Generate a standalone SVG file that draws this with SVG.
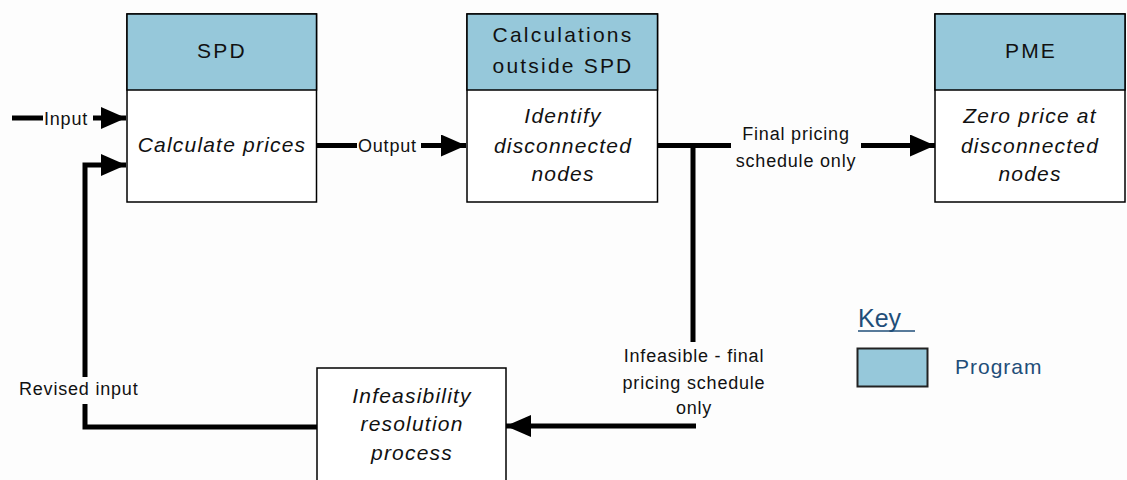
<svg xmlns="http://www.w3.org/2000/svg" width="1127" height="480" viewBox="0 0 1127 480">
<defs>
<style>
.box{fill:#ffffff;stroke:#000;stroke-width:1.5}
.hdr{fill:#96C8DA;stroke:#000;stroke-width:1.5}
.ht{font-family:"Liberation Sans",Arial,sans-serif;font-size:21px;letter-spacing:2.2px;fill:#111;text-anchor:middle}
.bt{font-family:"Liberation Sans",Arial,sans-serif;font-size:21px;font-style:italic;letter-spacing:1.2px;fill:#111;text-anchor:middle}
.lb{font-family:"Liberation Sans",Arial,sans-serif;font-size:18px;letter-spacing:0.8px;fill:#111}
.lbm{font-family:"Liberation Sans",Arial,sans-serif;font-size:18px;letter-spacing:0.8px;fill:#111;text-anchor:middle}
.cn{fill:none;stroke:#000;stroke-width:5;stroke-linejoin:miter}
.key{font-family:"Liberation Sans",Arial,sans-serif;fill:#1F4E79}
</style>
<marker id="ah" markerUnits="userSpaceOnUse" markerWidth="25" markerHeight="22" refX="25" refY="11" orient="auto">
<path d="M0,0 L25,11 L0,22 Z" fill="#000"/>
</marker>
</defs>
<rect width="1127" height="480" fill="#FDFDFD"/>

<g id="connectors">
<line class="cn" x1="12" y1="118" x2="43" y2="118"/>
<line class="cn" x1="93" y1="118" x2="126" y2="118" marker-end="url(#ah)"/>
<polyline class="cn" points="317,427 85,427 85,404"/>
<polyline class="cn" points="85,377 85,165 126,165" marker-end="url(#ah)"/>
<line class="cn" x1="316" y1="145.5" x2="357" y2="145.5"/>
<line class="cn" x1="421" y1="145.5" x2="466" y2="145.5" marker-end="url(#ah)"/>
<line class="cn" x1="658" y1="145.5" x2="731" y2="145.5"/>
<line class="cn" x1="861" y1="145.5" x2="935" y2="145.5" marker-end="url(#ah)"/>
<line class="cn" x1="693" y1="145.5" x2="693" y2="342"/>
<line class="cn" x1="696" y1="426" x2="506" y2="426" marker-end="url(#ah)"/>
<text class="lb" x="44" y="124.5">Input</text>
<text class="lb" x="358" y="151.5">Output</text>
<text class="lbm" x="796" y="139.5">Final pricing</text>
<text class="lbm" x="796" y="166.5">schedule only</text>
<text class="lb" x="19" y="394.5">Revised input</text>
<text class="lbm" x="694" y="361.5">Infeasible - final</text>
<text class="lbm" x="694" y="388.5">pricing schedule</text>
<text class="lbm" x="694" y="413.5">only</text>
</g>

<g id="spd">
<rect class="box" x="127" y="14" width="189.5" height="188"/>
<rect class="hdr" x="127" y="14" width="189.5" height="76"/>
<text class="ht" x="222" y="57.5">SPD</text>
<text class="bt" x="222" y="152">Calculate prices</text>
</g>

<g id="calc">
<rect class="box" x="467" y="14" width="190.5" height="188"/>
<rect class="hdr" x="467" y="14" width="190.5" height="76"/>
<text class="ht" x="563" y="41.5">Calculations</text>
<text class="ht" x="563" y="72.5">outside SPD</text>
<text class="bt" x="563" y="122.5">Identify</text>
<text class="bt" x="563" y="153">disconnected</text>
<text class="bt" x="563" y="180.5">nodes</text>
</g>

<g id="pme">
<rect class="box" x="935" y="14" width="190" height="188"/>
<rect class="hdr" x="935" y="14" width="190" height="76"/>
<text class="ht" x="1031" y="57.5">PME</text>
<text class="bt" x="1030" y="122.5">Zero price at</text>
<text class="bt" x="1030" y="153">disconnected</text>
<text class="bt" x="1030" y="180.5">nodes</text>
</g>

<g id="infeasibility">
<rect class="box" x="317" y="368" width="189" height="130"/>
<text class="bt" x="412" y="402.5">Infeasibility</text>
<text class="bt" x="412" y="430.5">resolution</text>
<text class="bt" x="412" y="460">process</text>
</g>

<g id="key">
<text class="key" x="858" y="327" font-size="25">Key</text>
<line x1="858" y1="331" x2="915" y2="331" stroke="#1F4E79" stroke-width="1.5"/>
<rect x="857.5" y="348.5" width="70" height="38" fill="#96C8DA" stroke="#222" stroke-width="2"/>
<text class="key" x="955" y="374" font-size="21" letter-spacing="1">Program</text>
</g>
</svg>
